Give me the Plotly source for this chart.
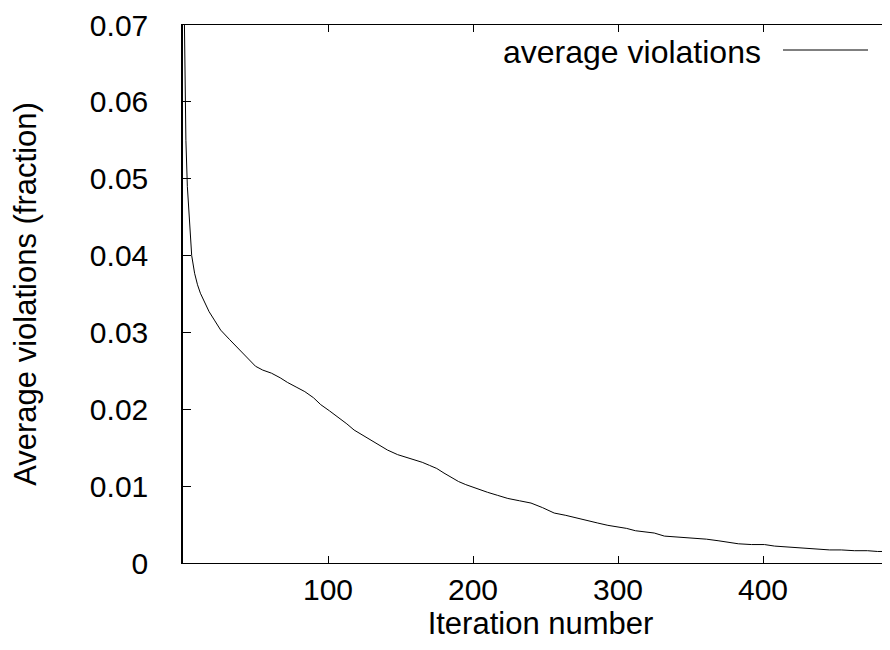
import plotly.graph_objects as go

# ---- data ----
iterations = [1, 2, 3, 4, 5, 6, 8, 10, 12, 15, 18, 22, 26, 32, 38, 44, 50, 55, 61, 67,
              72, 78, 84, 90, 95, 101, 107, 113, 118, 124, 130, 136, 141, 148, 155, 160,
              165, 170, 175, 180, 185, 190, 195, 202, 210, 217, 224, 232, 240, 248, 256,
              264, 272, 279, 286, 293, 300, 306, 312, 318, 325, 332, 340, 347, 353, 361,
              369, 376, 383, 392, 401, 408, 415, 425, 438, 446, 454, 463, 472, 479, 486, 493]
avg_violations = [0.0700, 0.0550, 0.0490, 0.0455, 0.0425, 0.0400, 0.0377, 0.0362, 0.0351,
                  0.0338, 0.0327, 0.0315, 0.0303, 0.0291, 0.0279, 0.0267, 0.0256, 0.0251,
                  0.0247, 0.0241, 0.0235, 0.0229, 0.0223, 0.0215, 0.0206, 0.0198, 0.0190,
                  0.0181, 0.0173, 0.0166, 0.0160, 0.0153, 0.0147, 0.0141, 0.0137, 0.0134,
                  0.0131, 0.0127, 0.0123, 0.0117, 0.0111, 0.0106, 0.0102, 0.0097, 0.0092,
                  0.0088, 0.0084, 0.0081, 0.0078, 0.0072, 0.0065, 0.0062, 0.0058, 0.0055,
                  0.0052, 0.0049, 0.0047, 0.0045, 0.0042, 0.0041, 0.0039, 0.0035, 0.0034,
                  0.0033, 0.0032, 0.0031, 0.0029, 0.0027, 0.0025, 0.0024, 0.0024, 0.0022,
                  0.0021, 0.0020, 0.0018, 0.0017, 0.0017, 0.0016, 0.0016, 0.0015, 0.0015,
                  0.0014]
x_tick_vals = [100, 200, 300, 400]
y_tick_vals = [0, 0.01, 0.02, 0.03, 0.04, 0.05, 0.06, 0.07]
y_tick_text = ["0", "0.01", "0.02", "0.03", "0.04", "0.05", "0.06", "0.07"]
series_name = "average violations"

FONT = "Liberation Sans, Arial, Helvetica, sans-serif"

fig = go.Figure()
fig.add_trace(go.Scatter(x=iterations, y=avg_violations, mode="lines",
                         name=series_name, line=dict(color="black", width=1),
                         showlegend=False, cliponaxis=False))

# legend drawn gnuplot-style: text, then line sample on its right
fig.add_annotation(text=series_name, xref="paper", yref="paper",
                   x=(755 - 175) / 715, y=(555 - 44) / 538, xanchor="right", yanchor="middle",
                   showarrow=False, font=dict(family=FONT, size=32, color="black"))
fig.add_shape(type="line", xref="paper", yref="paper",
              x0=(775 - 175) / 715, x1=(860 - 175) / 715,
              y0=(555 - 42) / 538, y1=(555 - 42) / 538,
              line=dict(color="black", width=1))

fig.update_layout(
    width=890, height=650,
    margin=dict(l=175, r=0, t=17, b=95),
    paper_bgcolor="white", plot_bgcolor="white",
    font=dict(family=FONT, size=30, color="black"),
    showlegend=False,
)
fig.update_xaxes(range=[0, 493.1], tickvals=x_tick_vals, ticks="inside", ticklen=7,
                 tickcolor="black", showline=True, linecolor="black", linewidth=1,
                 mirror="allticks", showgrid=False, zeroline=False,
                 ticklabelstandoff=0,
                 title=dict(text="Iteration number", standoff=6,
                            font=dict(family=FONT, size=31)))
fig.update_yaxes(range=[0, 0.07], tickvals=y_tick_vals, ticktext=y_tick_text,
                 ticks="inside", ticklen=8, tickcolor="black", showline=True,
                 linecolor="black", linewidth=1.5, showgrid=False, zeroline=False,
                 ticklabelstandoff=27,
                 title=dict(text="Average violations (fraction)", standoff=44,
                            font=dict(family=FONT, size=31)))

fig.write_html("out.html")
